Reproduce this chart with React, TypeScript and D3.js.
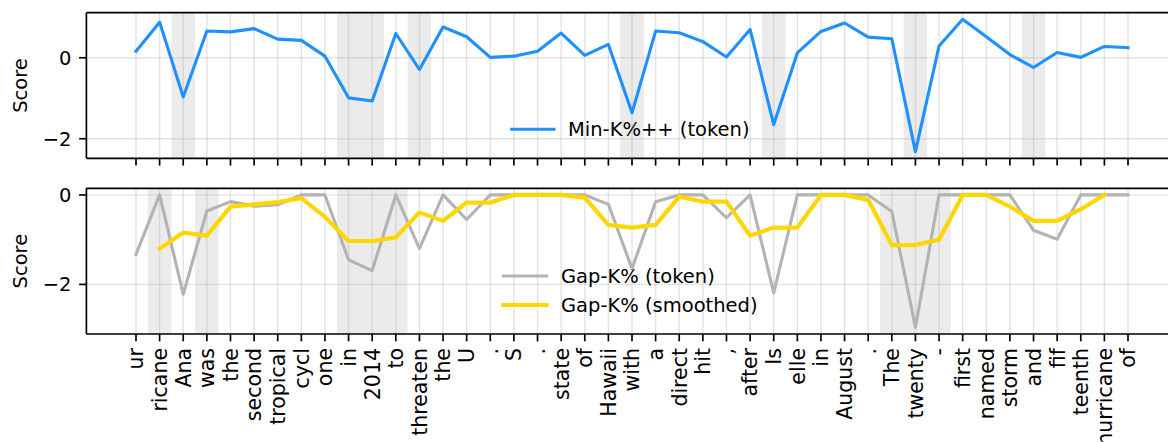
import React from "react";
import * as d3 from "d3";

const tokens = ["ur","ricane","Ana","was","the","second","tropical","cycl","one","in","2014","to","threaten","the","U",".","S",".","state","of","Hawaii","with","a","direct","hit",",","after","Is","elle","in","August",".","The","twenty","-","first","named","storm","and","fif","teenth","hurricane","of"];

const minKToken = [0.16,0.88,-0.97,0.66,0.64,0.72,0.46,0.43,0.04,-0.99,-1.07,0.60,-0.29,0.76,0.52,0.01,0.04,0.16,0.61,0.06,0.33,-1.36,0.66,0.62,0.40,0.02,0.70,-1.65,0.12,0.65,0.86,0.51,0.47,-2.32,0.29,0.95,0.52,0.08,-0.24,0.13,0.01,0.28,0.25];

const gapToken = [-1.33,0,-2.22,-0.36,-0.15,-0.25,-0.22,0,0,-1.45,-1.69,0,-1.20,0,-0.55,0,0,0,0,0,-0.21,-1.65,-0.15,0,0,-0.51,0,-2.19,0,0,0,0,-0.37,-2.96,0,0,0,0,-0.79,-0.99,0,0,0];

const gapSmoothed: (number | null)[] = [null,-1.20,-0.84,-0.91,-0.26,-0.21,-0.16,-0.07,-0.49,-1.03,-1.03,-0.95,-0.39,-0.58,-0.17,-0.17,0,0,0,-0.06,-0.67,-0.73,-0.67,-0.04,-0.15,-0.15,-0.91,-0.73,-0.73,0,0,-0.11,-1.12,-1.12,-1.0,0,0,-0.26,-0.58,-0.58,-0.32,0,null];

const topBands = [[2,2],[9,10],[12,12],[21,21],[27,27],[33,33],[38,38]];
const bottomBands = [[1,1],[3,3],[9,11],[32,34]];

const yTicks = [0, -2];

const W = 1168, H = 442;
const FONT = "DejaVu Sans";
const LEFT = 86.4, RIGHT = 1177.6;
const TOP_PANEL = { top: 12.7, bottom: 158.3 };
const BOT_PANEL = { top: 188.3, bottom: 334 };

const n = tokens.length;
const xPad = (n - 1) * 0.05;
const x = d3.scaleLinear().domain([-xPad, n - 1 + xPad]).range([LEFT, RIGHT]);

function yDomain(vals: number[]): [number, number] {
  const mn = d3.min(vals)!, mx = d3.max(vals)!;
  const m = (mx - mn) * 0.05;
  return [mn - m, mx + m];
}

const yTop = d3.scaleLinear().domain(yDomain(minKToken)).range([TOP_PANEL.bottom, TOP_PANEL.top]);
const yBot = d3.scaleLinear()
  .domain(yDomain([...gapToken, ...(gapSmoothed.filter((v) => v !== null) as number[])]))
  .range([BOT_PANEL.bottom, BOT_PANEL.top]);

function Panel({ y, panel, bands, showLabels, children }: any) {
  const idx = d3.range(n);
  return (
    <g>
      <defs>
        <clipPath id={`clip${panel.top}`}>
          <rect x={LEFT} y={panel.top} width={RIGHT - LEFT} height={panel.bottom - panel.top} />
        </clipPath>
      </defs>
      {bands.map(([a, b]: number[], i: number) => (
        <rect key={i} x={x(a - 0.5)} y={panel.top} width={x(b + 0.5) - x(a - 0.5)} height={panel.bottom - panel.top} fill="#808080" fillOpacity={0.16} />
      ))}
      {idx.map((i) => (
        <line key={"vg" + i} x1={x(i)} x2={x(i)} y1={panel.top} y2={panel.bottom} stroke="#b0b0b0" strokeOpacity={0.35} strokeWidth={1.4} />
      ))}
      {yTicks.map((t) => (
        <line key={"hg" + t} x1={LEFT} x2={RIGHT} y1={y(t)} y2={y(t)} stroke="#b0b0b0" strokeOpacity={0.35} strokeWidth={1.4} />
      ))}
      <g clipPath={`url(#clip${panel.top})`}>{children}</g>
      {/* spines */}
      <line x1={LEFT} x2={RIGHT} y1={panel.top} y2={panel.top} stroke="#000" strokeWidth={1.67} />
      <line x1={LEFT} x2={RIGHT} y1={panel.bottom} y2={panel.bottom} stroke="#000" strokeWidth={1.67} />
      <line x1={LEFT} x2={LEFT} y1={panel.top} y2={panel.bottom} stroke="#000" strokeWidth={1.67} />
      <line x1={RIGHT} x2={RIGHT} y1={panel.top} y2={panel.bottom} stroke="#000" strokeWidth={1.67} />
      {/* x ticks */}
      {idx.map((i) => (
        <line key={"xt" + i} x1={x(i)} x2={x(i)} y1={panel.bottom} y2={panel.bottom + 7.3} stroke="#000" strokeWidth={1.67} />
      ))}
      {showLabels && idx.map((i) => (
        <text key={"xl" + i} transform={`translate(${x(i)},${panel.bottom + 14}) rotate(-90)`} textAnchor="end" dy="0.36em" fontFamily={FONT} fontSize={20.5} fill="#000">{tokens[i]}</text>
      ))}
      {/* y ticks */}
      {yTicks.map((t) => (
        <g key={"yt" + t}>
          <line x1={LEFT - 7.3} x2={LEFT} y1={y(t)} y2={y(t)} stroke="#000" strokeWidth={1.67} />
          <text x={LEFT - 15} y={y(t)} dy="0.36em" textAnchor="end" fontFamily={FONT} fontSize={19.5} fill="#000">{t < 0 ? "\u2212" + Math.abs(t) : String(t)}</text>
        </g>
      ))}
      <text transform={`translate(20,${(panel.top + panel.bottom) / 2}) rotate(-90)`} textAnchor="middle" dy="0.36em" fontFamily={FONT} fontSize={19.5} fill="#000">Score</text>
    </g>
  );
}

export default function App() {
  const idx = d3.range(n);
  const lineTop = d3.line<number>().x((i) => x(i)).y((i) => yTop(minKToken[i]));
  const lineGap = d3.line<number>().x((i) => x(i)).y((i) => yBot(gapToken[i]));
  const lineSm = d3.line<number>()
    .defined((i) => gapSmoothed[i] !== null)
    .x((i) => x(i))
    .y((i) => yBot(gapSmoothed[i] as number));

  return (
    <svg width={W} height={H} style={{ position: "absolute", left: 0, top: 0, display: "block", background: "#fff" }}>
      <rect x={0} y={0} width={W} height={H} fill="#fff" />
      <Panel y={yTop} panel={TOP_PANEL} bands={topBands} showLabels={false}>
        <path d={lineTop(idx) || ""} fill="none" stroke="#1e90ff" strokeWidth={3.1} strokeLinejoin="round" strokeLinecap="square" />
      </Panel>
      <Panel y={yBot} panel={BOT_PANEL} bands={bottomBands} showLabels={true}>
        <path d={lineGap(idx) || ""} fill="none" stroke="#b3b3b3" strokeWidth={3.1} strokeLinejoin="round" strokeLinecap="square" />
        <path d={lineSm(idx) || ""} fill="none" stroke="#ffd700" strokeWidth={4.2} strokeLinejoin="round" strokeLinecap="square" />
      </Panel>
      {/* legends */}
      <g fontFamily={FONT} fontSize={19.5} fill="#000">
        <line x1={511.7} x2={554} y1={129.3} y2={129.3} stroke="#1e90ff" strokeWidth={3.1} strokeLinecap="square" />
        <text x={568} y={129.3} dy="0.36em">Min-K%++ (token)</text>
        <line x1={503.3} x2={546.7} y1={276} y2={276} stroke="#b3b3b3" strokeWidth={3.1} strokeLinecap="square" />
        <text x={561} y={276} dy="0.36em">Gap-K% (token)</text>
        <line x1={503.3} x2={546.7} y1={305} y2={305} stroke="#ffd700" strokeWidth={4.2} strokeLinecap="square" />
        <text x={561} y={305} dy="0.36em">Gap-K% (smoothed)</text>
      </g>
    </svg>
  );
}
